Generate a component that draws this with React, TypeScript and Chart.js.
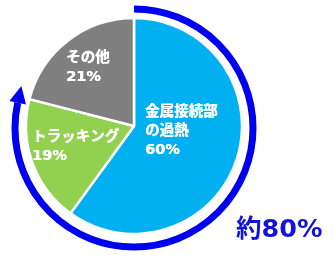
import React, { useEffect, useRef } from "react";
import { Chart, registerables } from "chart.js";

Chart.register(...registerables);

const categories = ["金属接続部の過熱", "トラッキング", "その他"];
const values = [60, 19, 21];
const colors = ["#00B0F0", "#92D050", "#7F7F7F"];
const labelLines = [["金属接続部", "の過熱", "60%"], ["トラッキング", "19%"], ["その他", "21%"]];
const labelPos = [[145, 112], [32, 137], [66, 58]];
const arrowShare = 80;
const arrowText = "約80%";

const FONT = "'DejaVu Sans', 'Noto Sans CJK JP', sans-serif";

const overlay = {
  id: "overlay",
  afterDraw(chart: any) {
    const ctx = chart.ctx;
    const arc = chart.getDatasetMeta(0).data[0];
    const cx = arc.x;
    const cy = arc.y + 2;
    const R = 119;
    ctx.save();
    // labels
    ctx.fillStyle = "#FFFFFF";
    ctx.font = `bold 14.5px ${FONT}`;
    ctx.textBaseline = "middle";
    ctx.textAlign = "left";
    labelLines.forEach((lines, i) => {
      const [x, y] = labelPos[i];
      lines.forEach((t, j) => {
        ctx.fillText(t, x, y + j * 19);
        ctx.fillText(t, x + 0.4, y + j * 19);
      });
    });
    // arrow arc
    const start = -Math.PI / 2;
    const end = start + (arrowShare / 100) * 2 * Math.PI - 0.1;
    ctx.strokeStyle = "#0000F0";
    ctx.lineWidth = 7;
    ctx.beginPath();
    ctx.arc(cx, cy, R, start, end, false);
    ctx.stroke();
    // arrowhead
    const ex = cx + R * Math.cos(end);
    const ey = cy + R * Math.sin(end);
    const tx = -Math.sin(end);
    const ty = Math.cos(end);
    const nx = Math.cos(end);
    const ny = Math.sin(end);
    ctx.fillStyle = "#0000F0";
    ctx.beginPath();
    ctx.moveTo(ex + tx * 17, ey + ty * 17);
    ctx.lineTo(ex + nx * 8.5, ey + ny * 8.5);
    ctx.lineTo(ex - nx * 8.5, ey - ny * 8.5);
    ctx.closePath();
    ctx.fill();
    // big text
    ctx.fillStyle = "#1414D8";
    ctx.font = `bold 25.5px ${FONT}`;
    ctx.textBaseline = "middle";
    ctx.fillText(arrowText, 236, 230);
    ctx.restore();
  },
};

export default function App() {
  const ref = useRef<HTMLCanvasElement>(null);
  useEffect(() => {
    const chart = new Chart(ref.current!, {
      type: "pie",
      data: {
        labels: categories,
        datasets: [
          {
            data: values,
            backgroundColor: colors,
            borderColor: "#FFFFFF",
            borderWidth: 2.5,
          },
        ],
      },
      options: {
        responsive: false,
        animation: false,
        radius: 108,
        layout: { padding: { left: 0, right: 66, top: 0, bottom: 7 } },
        plugins: { legend: { display: false }, tooltip: { enabled: false } },
      },
      plugins: [overlay],
    });
    return () => chart.destroy();
  }, []);
  return (
    <div style={{ position: "absolute", left: 0, top: 0, width: 334, height: 259, background: "#fff" }}>
      <canvas ref={ref} width={334} height={259} />
    </div>
  );
}
